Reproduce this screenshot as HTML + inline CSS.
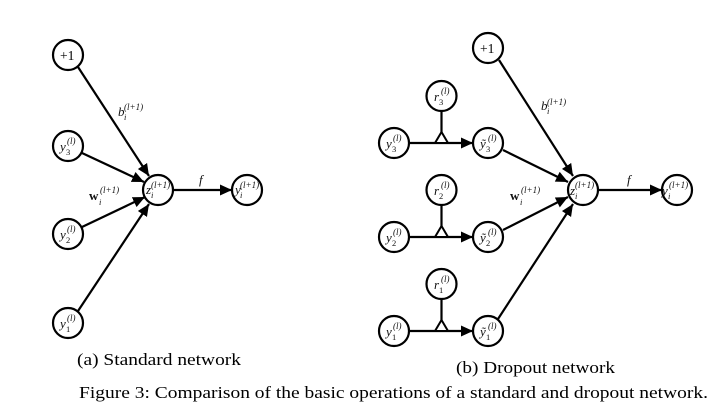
<!DOCTYPE html>
<html><head><meta charset="utf-8"><style>
html,body{margin:0;padding:0;background:#fff;width:722px;height:410px;overflow:hidden}
svg{display:block}
.m{font-family:"Liberation Serif",serif;font-style:italic;fill:#111}
.s{font-size:13px}.u{font-size:9px}.d{font-size:8.5px;font-style:normal}
.c{font-family:"Liberation Serif",serif;fill:#000;font-size:16.5px}
circle{fill:#fff;stroke:#000;stroke-width:2.2}
line{stroke:#000;stroke-width:2.2}
</style></head><body>
<svg width="722" height="410" viewBox="0 0 722 410" xmlns="http://www.w3.org/2000/svg">
<defs><marker id="a" markerUnits="userSpaceOnUse" markerWidth="13" markerHeight="12" refX="12" refY="5.5" orient="auto"><path d="M0 0L12 5.5L0 11Z" fill="#000"/></marker></defs>

<!-- left -->
<line x1="78" y1="67" x2="149" y2="176" marker-end="url(#a)"/>
<line x1="82" y1="153" x2="144" y2="182" marker-end="url(#a)"/>
<line x1="82" y1="227" x2="145" y2="197" marker-end="url(#a)"/>
<line x1="78" y1="311" x2="149" y2="204" marker-end="url(#a)"/>
<line x1="173" y1="190" x2="232" y2="190" marker-end="url(#a)"/>
<circle cx="68" cy="55" r="15"/><circle cx="68" cy="146" r="15"/><circle cx="68" cy="234" r="15"/><circle cx="68" cy="323" r="15"/><circle cx="158" cy="190" r="15"/><circle cx="247" cy="190" r="15"/>
<text x="60" y="60" class="c" style="font-size:13.5px">+1</text>
<text x="60" y="151" class="m s">y</text><text x="66" y="155" class="m d">3</text><text x="67" y="144" class="m u">(l)</text>
<text x="60" y="239" class="m s">y</text><text x="66" y="243" class="m d">2</text><text x="67" y="232" class="m u">(l)</text>
<text x="60" y="328" class="m s">y</text><text x="66" y="332" class="m d">1</text><text x="67" y="321" class="m u">(l)</text>
<text x="146" y="194" class="m s">z</text><text x="151" y="198" class="m d" style="font-style:italic">i</text><text x="151" y="188" class="m u">(l+1)</text>
<text x="235" y="194" class="m s">y</text><text x="240" y="198" class="m d" style="font-style:italic">i</text><text x="240" y="188" class="m u">(l+1)</text>
<text x="118" y="116" class="m s">b</text><text x="124" y="120" class="m d" style="font-style:italic">i</text><text x="124" y="110" class="m u">(l+1)</text>
<text x="89" y="200" class="m s" style="font-style:normal;font-weight:bold">w</text><text x="99" y="205" class="m d" style="font-style:italic">i</text><text x="100" y="193" class="m u">(l+1)</text>
<text x="199" y="184" class="m s">f</text>

<!-- right -->
<line x1="499" y1="60" x2="573" y2="176" marker-end="url(#a)"/>
<line x1="503" y1="150" x2="568" y2="182" marker-end="url(#a)"/>
<line x1="503" y1="230" x2="568" y2="197" marker-end="url(#a)"/>
<line x1="498" y1="319" x2="573" y2="204" marker-end="url(#a)"/>
<line x1="598" y1="190" x2="662" y2="190" marker-end="url(#a)"/>
<line x1="409" y1="143" x2="473" y2="143" marker-end="url(#a)"/>
<line x1="409" y1="237" x2="473" y2="237" marker-end="url(#a)"/>
<line x1="409" y1="331" x2="473" y2="331" marker-end="url(#a)"/>
<line x1="441.5" y1="111" x2="441.5" y2="132"/><line x1="441.5" y1="205" x2="441.5" y2="226"/><line x1="441.5" y1="299" x2="441.5" y2="320"/>
<path d="M441.5 132L435 143H448Z M441.5 226L435 237H448Z M441.5 320L435 331H448Z" fill="#fff" stroke="#000" stroke-width="2"/>
<circle cx="488" cy="48" r="15"/><circle cx="394" cy="143" r="15"/><circle cx="441.5" cy="96" r="15"/><circle cx="488" cy="143" r="15"/><circle cx="394" cy="237" r="15"/><circle cx="441.5" cy="190" r="15"/><circle cx="488" cy="237" r="15"/><circle cx="394" cy="331" r="15"/><circle cx="441.5" cy="284" r="15"/><circle cx="488" cy="331" r="15"/><circle cx="583" cy="190" r="15"/><circle cx="677" cy="190" r="15"/>
<text x="480" y="53" class="c" style="font-size:13.5px">+1</text>

<text x="386" y="148" class="m s">y</text><text x="392" y="152" class="m d">3</text><text x="393" y="141" class="m u">(l)</text>
<text x="386" y="242" class="m s">y</text><text x="392" y="246" class="m d">2</text><text x="393" y="235" class="m u">(l)</text>
<text x="386" y="336" class="m s">y</text><text x="392" y="340" class="m d">1</text><text x="393" y="329" class="m u">(l)</text>

<text x="434" y="101" class="m s">r</text><text x="439" y="105" class="m d">3</text><text x="441" y="94" class="m u">(l)</text>
<text x="434" y="195" class="m s">r</text><text x="439" y="199" class="m d">2</text><text x="441" y="188" class="m u">(l)</text>
<text x="434" y="289" class="m s">r</text><text x="439" y="293" class="m d">1</text><text x="441" y="282" class="m u">(l)</text>

<text x="480" y="148" class="m s">ỹ</text><text x="486" y="152" class="m d">3</text><text x="488" y="141" class="m u">(l)</text>
<text x="480" y="242" class="m s">ỹ</text><text x="486" y="246" class="m d">2</text><text x="488" y="235" class="m u">(l)</text>
<text x="480" y="336" class="m s">ỹ</text><text x="486" y="340" class="m d">1</text><text x="488" y="329" class="m u">(l)</text>

<text x="570" y="195" class="m s">z</text><text x="575" y="199" class="m d" style="font-style:italic">i</text><text x="575" y="188" class="m u">(l+1)</text>
<text x="662" y="195" class="m s">y</text><text x="668" y="199" class="m d" style="font-style:italic">i</text><text x="669" y="188" class="m u">(l+1)</text>
<text x="541" y="110" class="m s">b</text><text x="547" y="114" class="m d" style="font-style:italic">i</text><text x="547" y="105" class="m u">(l+1)</text>
<text x="510" y="200" class="m s" style="font-style:normal;font-weight:bold">w</text><text x="520" y="205" class="m d" style="font-style:italic">i</text><text x="521" y="193" class="m u">(l+1)</text>
<text x="627" y="184" class="m s">f</text>

<!-- captions -->
<text x="77" y="365" class="c" textLength="164" lengthAdjust="spacingAndGlyphs">(a) Standard network</text>
<text x="456" y="373" class="c" textLength="159" lengthAdjust="spacingAndGlyphs">(b) Dropout network</text>
<text x="79" y="398" class="c" textLength="629" lengthAdjust="spacingAndGlyphs">Figure 3: Comparison of the basic operations of a standard and dropout network.</text>
</svg>
</body></html>
